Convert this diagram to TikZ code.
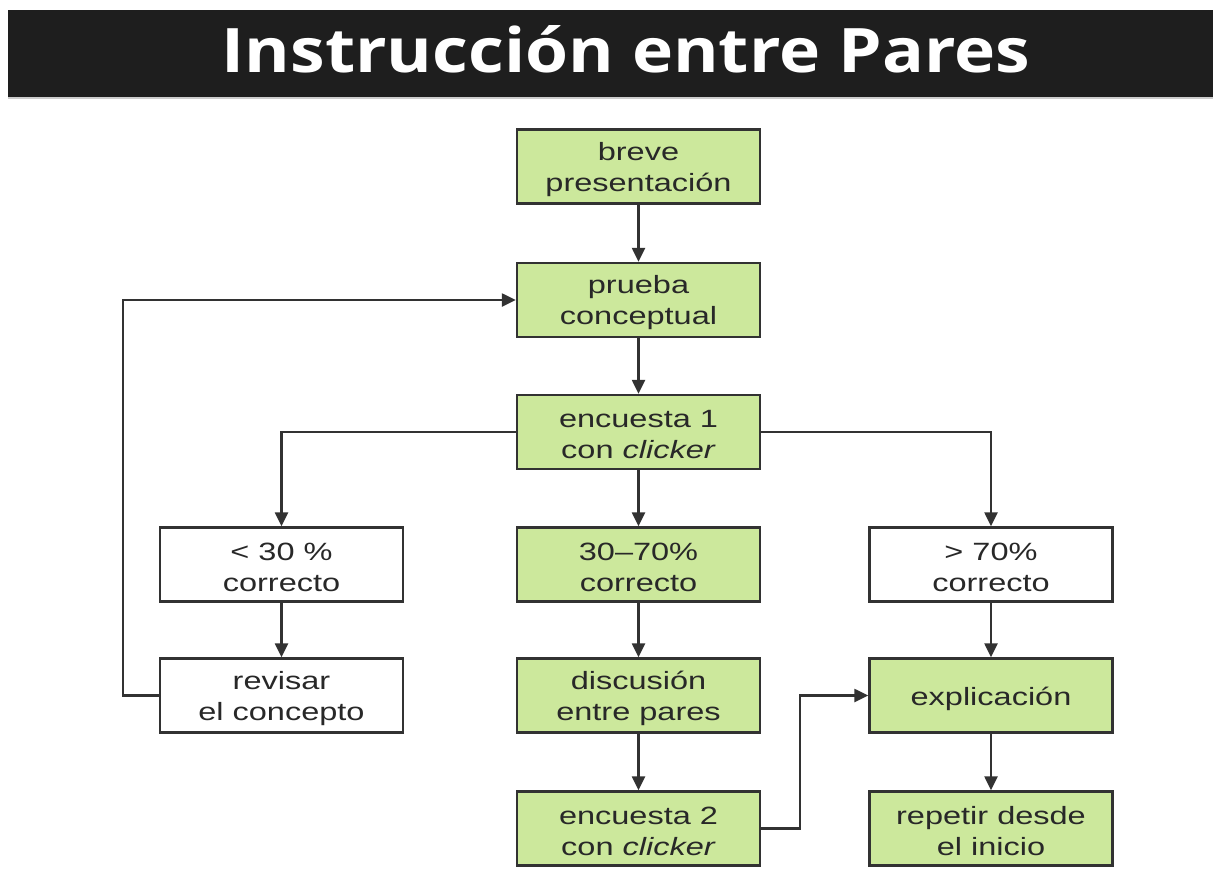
\documentclass[tikz,border=0pt]{standalone}
\usepackage{fontspec}
\usepackage{graphicx}
\setmainfont{Liberation Sans}
\newfontfamily\titlefont{Open Sans}[BoldFont={* Bold}]
\usetikzlibrary{arrows.meta}
\definecolor{boxgreen}{RGB}{204,232,156}
\definecolor{linegray}{RGB}{50,50,50}
\definecolor{titlebg}{RGB}{30,30,30}
\definecolor{txt}{RGB}{40,40,40}
\newcommand{\wtxt}[1]{\raisebox{-3pt}[\height][\depth]{\scalebox{1.3}[1]{#1}}}
\tikzset{
  stepbox/.style={draw=linegray, line width=2.4pt, minimum width=243pt, minimum height=74pt,
    inner sep=0pt, align=center, text=txt, font=\fontsize{25}{31}\selectfont},
  greenbox/.style={stepbox, fill=boxgreen},
  whitebox/.style={stepbox, fill=white},
  arr/.style={draw=linegray, line width=2.4pt, -{Triangle[length=14pt,width=13pt]}},
}
\begin{document}
\begin{tikzpicture}[x=1pt,y=-1pt]
\useasboundingbox (0,0) rectangle (1213,868);
\fill[white] (0,0) rectangle (1213,868);
\fill[titlebg] (8,10) rectangle (1213,97);
\fill[gray!40] (8,97) rectangle (1213,99);
\node[text=white, inner sep=0pt] (title) at (626,49)
  {\resizebox{808pt}{47pt}{\titlefont\bfseries Instrucción entre Pares}};

\node[greenbox] (b1) at (638.5,166.5) {\wtxt{breve}\\\wtxt{presentación}};
\node[greenbox] (b2) at (638.5,300) {\wtxt{prueba}\\\wtxt{conceptual}};
\node[greenbox] (b3) at (638.5,432) {\wtxt{encuesta 1}\\\wtxt{con \textit{clicker}}};
\node[whitebox] (lo) at (281.5,564.5) {\wtxt{< 30 \%}\\\wtxt{correcto}};
\node[greenbox] (mid) at (638.5,564.5) {\wtxt{30–70\%}\\\wtxt{correcto}};
\node[whitebox] (hi) at (991,564.5) {\wtxt{> 70\%}\\\wtxt{correcto}};
\node[whitebox] (rev) at (281.5,695.5) {\wtxt{revisar}\\\wtxt{el concepto}};
\node[greenbox] (disc) at (638.5,695.5) {\wtxt{discusión}\\\wtxt{entre pares}};
\node[greenbox] (expl) at (991,695.5) {\wtxt{explicación}};
\node[greenbox] (enc2) at (638.5,828.5) {\wtxt{encuesta 2}\\\wtxt{con \textit{clicker}}};
\node[greenbox] (rep) at (991,828.5) {\wtxt{repetir desde}\\\wtxt{el inicio}};

\coordinate (loop) at (123,298);
\coordinate (jog) at (800,700);

\draw[arr] (b1) -- (b2);
\draw[arr] (b2) -- (b3);
\draw[arr] (b3.west) -| (lo.north);
\draw[arr] (b3.east) -| (hi.north);
\draw[arr] (b3) -- (mid);
\draw[arr] (lo) -- (rev);
\draw[arr] (mid) -- (disc);
\draw[arr] (disc) -- (enc2);
\draw[arr] (hi) -- (expl);
\draw[arr] (expl) -- (rep);
\draw[arr] (rev.west) -- (rev.west -| loop) -- (loop |- b2.west) -- (b2.west);
\draw[arr] (enc2.east) -- (enc2.east -| jog) -- (jog |- expl.west) -- (expl.west);
\end{tikzpicture}
\end{document}
